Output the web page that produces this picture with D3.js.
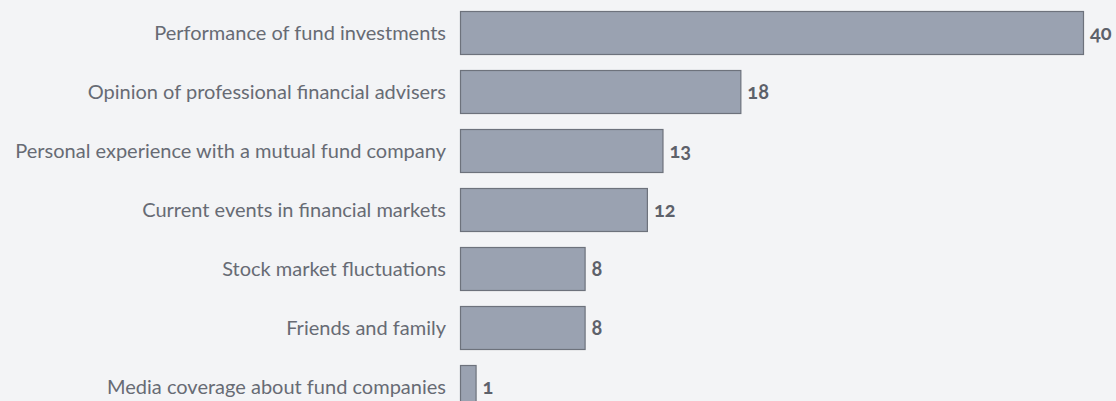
<!DOCTYPE html>
<html>
<head>
<meta charset="utf-8">
<script src="https://cdn.jsdelivr.net/npm/d3@7"></script>
<style>
  body { margin:0; background:#f3f4f6; }
  #canvas { width:1116px; height:401px; overflow:hidden; }
</style>
</head>
<body>
<div id="canvas" class="canvas"></div>
<script>
// data
var categories = [
  'Performance of fund investments',
  'Opinion of professional financial advisers',
  'Personal experience with a mutual fund company',
  'Current events in financial markets',
  'Stock market fluctuations',
  'Friends and family',
  'Media coverage about fund companies'
];
var values = [40, 18, 13, 12, 8, 8, 1];

var m = {t:11, r:0, b:0, l:460};
var outerWidth = 1116, outerHeight = 401;

var svg = d3.select('.canvas')
  .append('svg')
  .attr('width', outerWidth)
  .attr('height', outerHeight);

svg.append('rect').attr('width', outerWidth).attr('height', outerHeight).attr('fill', '#f3f4f6');

var plot = svg.append('g')
  .attr('transform', 'translate(' + m.l + ',' + m.t + ')');

var scaleX = d3.scaleLinear()
  .domain([0, 40])
  .range([0, 623]);

var step = 59, barH = 43;
var scaleY = d3.scaleBand()
  .domain(categories)
  .range([0, step * (categories.length - 1) + barH])
  .paddingInner((step - barH) / step)
  .paddingOuter(0);

var rows = categories.map(function(c, i){ return {cat:c, val:values[i]}; });

plot.selectAll('rect.bar')
  .data(rows)
  .enter()
  .append('rect')
  .attr('class', 'bar')
  .attr('x', 0.5)
  .attr('y', function(d){ return scaleY(d.cat) + 0.5; })
  .attr('width', function(d){ return scaleX(d.val); })
  .attr('height', scaleY.bandwidth())
  .attr('fill', '#9aa2b1')
  .attr('stroke', '#6d727c')
  .attr('stroke-width', 1.2);

// category labels
plot.selectAll('text.cat')
  .data(rows)
  .enter()
  .append('text')
  .attr('class', 'cat')
  .attr('x', -14)
  .attr('y', function(d){ return scaleY(d.cat) + scaleY.bandwidth()/2; })
  .attr('dy', '0.37em')
  .attr('text-anchor', 'end')
  .style('font-family', 'Lato, sans-serif')
  .style('font-size', '20px')
  .style('fill', '#676b74')
  .text(function(d){ return d.cat; });

// value labels
plot.selectAll('text.val')
  .data(rows)
  .enter()
  .append('text')
  .attr('class', 'val')
  .attr('x', function(d){ return scaleX(d.val) + 7; })
  .attr('y', function(d){ return scaleY(d.cat) + scaleY.bandwidth()/2; })
  .attr('dy', '0.35em')
  .style('font-family', 'Lato, sans-serif')
  .style('font-size', '20px')
  .style('font-weight', 'bold')
  .style('font-variant-numeric', 'oldstyle-nums')
  .style('fill', '#5d616a')
  .text(function(d){ return d.val; });
</script>
</body>
</html>
